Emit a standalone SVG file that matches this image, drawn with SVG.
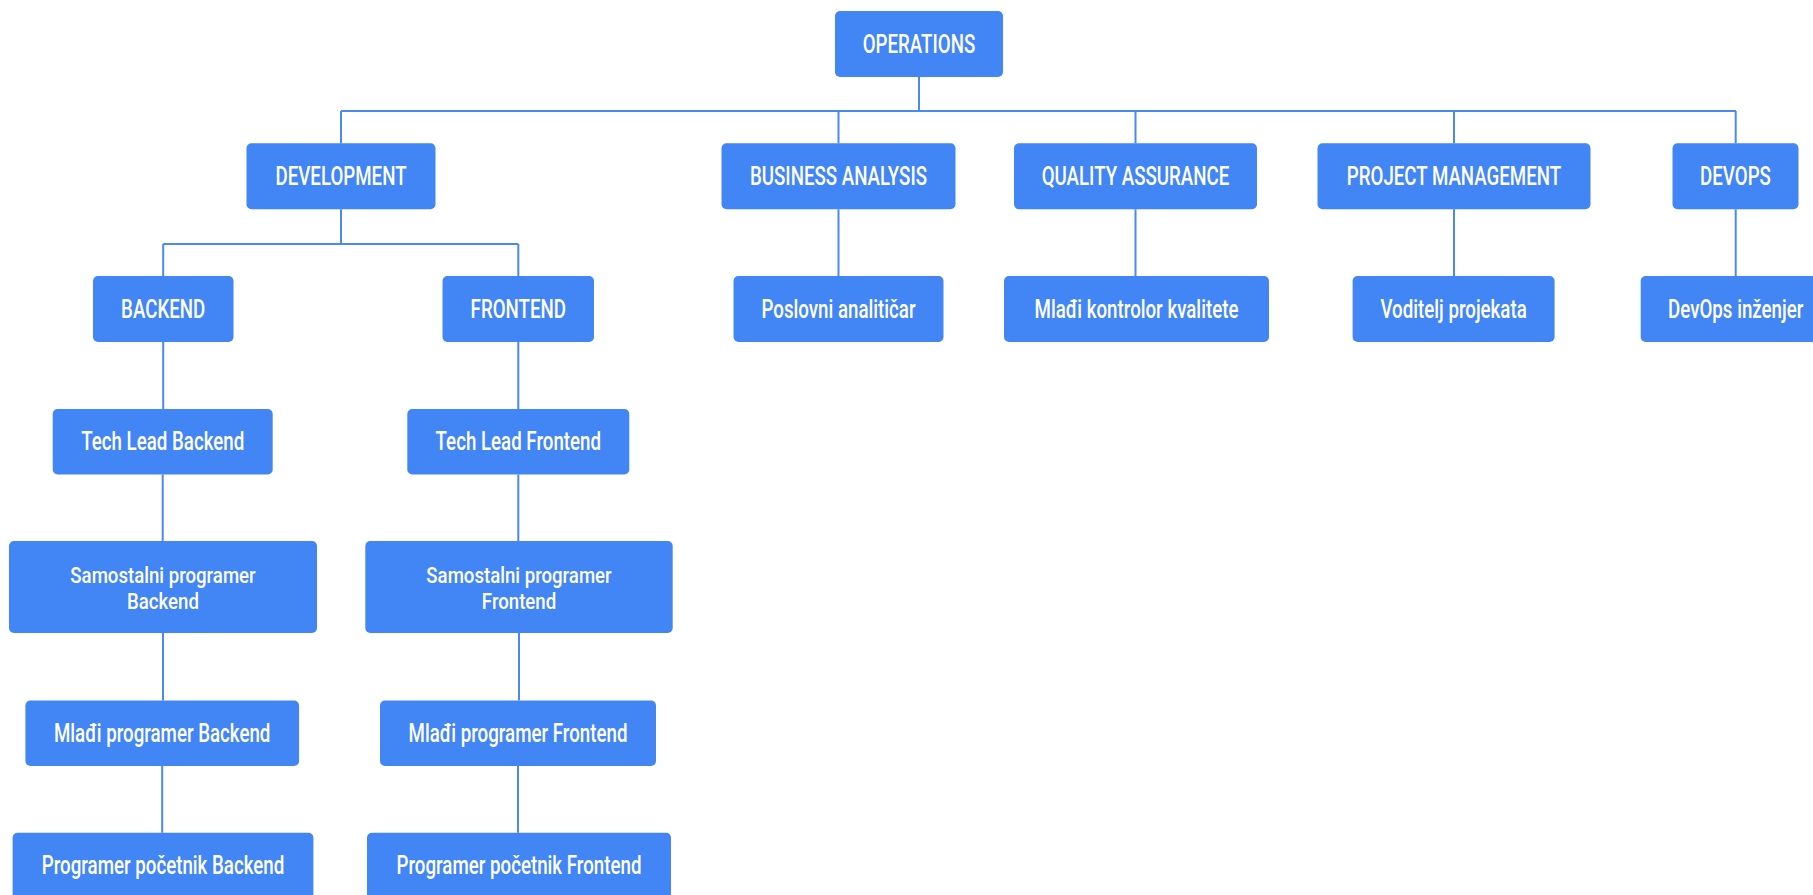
<svg xmlns="http://www.w3.org/2000/svg" width="1813" height="895" viewBox="0 0 1813 895">
  <style>
    .box { fill: #4285F4; }
    .lbl { fill: #FFFFFF; font-family: Roboto, "Liberation Sans", sans-serif; font-weight: 500; font-size: 26px; text-anchor: middle; }
    .lbl2 { font-size: 23px; }
    .wire { fill: none; stroke: #4A88F2; stroke-width: 2; }
  </style>
  <rect width="1813" height="895" fill="#FFFFFF"/>

  <!-- tree connectors -->
  <g id="connectors" class="wire">
    <path d="M919 77 V111 M341 111 H1736 M341 111 V143.3 M838.5 111 V143.3 M1135.5 111 V143.3 M1454 111 V143.3 M1735.7 111 V143.3"/>
    <path d="M341 209.3 V244 M163.2 244 H518.3 M163.2 244 V276 M518.3 244 V276"/>
    <path d="M838.5 209.3 V276 M1135.5 209.3 V276 M1454 209.3 V276 M1735.7 209.3 V276"/>
    <path d="M163.2 342 V409 M162.7 474.5 V541 M163 633 V700.5 M162.2 766 V832.7"/>
    <path d="M518.3 342 V409 M518.3 474.5 V541 M519 633 V700.5 M518 766 V832.7"/>
  </g>

  <g id="operations">
    <rect class="box" x="835" y="11" width="168" height="66" rx="5"/>
    <text class="lbl" transform="translate(919 52.5) scale(0.72 1)">OPERATIONS</text>
  </g>

  <g id="development">
    <rect class="box" x="246.5" y="143.3" width="189" height="66" rx="5"/>
    <text class="lbl" transform="translate(341 184.8) scale(0.72 1)">DEVELOPMENT</text>
  </g>
  <g id="business-analysis">
    <rect class="box" x="721.5" y="143.3" width="234" height="66" rx="5"/>
    <text class="lbl" transform="translate(838.5 184.8) scale(0.72 1)">BUSINESS ANALYSIS</text>
  </g>
  <g id="quality-assurance">
    <rect class="box" x="1014" y="143.3" width="243" height="66" rx="5"/>
    <text class="lbl" transform="translate(1135.5 184.8) scale(0.72 1)">QUALITY ASSURANCE</text>
  </g>
  <g id="project-management">
    <rect class="box" x="1317.5" y="143.3" width="273" height="66" rx="5"/>
    <text class="lbl" transform="translate(1454 184.8) scale(0.72 1)">PROJECT MANAGEMENT</text>
  </g>
  <g id="devops">
    <rect class="box" x="1672.5" y="143.3" width="126" height="66" rx="5"/>
    <text class="lbl" transform="translate(1735.5 184.8) scale(0.72 1)">DEVOPS</text>
  </g>

  <g id="backend">
    <rect class="box" x="93" y="276" width="140.5" height="66" rx="5"/>
    <text class="lbl" transform="translate(163.2 317.5) scale(0.72 1)">BACKEND</text>
  </g>
  <g id="frontend">
    <rect class="box" x="442.5" y="276" width="151.5" height="66" rx="5"/>
    <text class="lbl" transform="translate(518.3 317.5) scale(0.72 1)">FRONTEND</text>
  </g>
  <g id="poslovni-analiticar">
    <rect class="box" x="733.5" y="276" width="210" height="66" rx="5"/>
    <text class="lbl" transform="translate(838.5 317.5) scale(0.72 1)">Poslovni analitičar</text>
  </g>
  <g id="mladi-kontrolor-kvalitete">
    <rect class="box" x="1004" y="276" width="265" height="66" rx="5"/>
    <text class="lbl" transform="translate(1136.5 317.5) scale(0.72 1)">Mlađi kontrolor kvalitete</text>
  </g>
  <g id="voditelj-projekata">
    <rect class="box" x="1352.6" y="276" width="202" height="66" rx="5"/>
    <text class="lbl" transform="translate(1453.6 317.5) scale(0.72 1)">Voditelj projekata</text>
  </g>
  <g id="devops-inzenjer">
    <rect class="box" x="1640.7" y="276" width="190" height="66" rx="5"/>
    <text class="lbl" transform="translate(1735.7 317.5) scale(0.72 1)">DevOps inženjer</text>
  </g>

  <g id="tech-lead-backend">
    <rect class="box" x="52.7" y="409" width="220" height="65.5" rx="5"/>
    <text class="lbl" transform="translate(162.7 450.2) scale(0.72 1)">Tech Lead Backend</text>
  </g>
  <g id="tech-lead-frontend">
    <rect class="box" x="407.3" y="409" width="222" height="65.5" rx="5"/>
    <text class="lbl" transform="translate(518.3 450.2) scale(0.72 1)">Tech Lead Frontend</text>
  </g>

  <g id="samostalni-programer-backend">
    <rect class="box" x="9" y="541" width="308" height="92" rx="5"/>
    <text class="lbl lbl2" transform="translate(163 582.5) scale(0.81 1)"><tspan x="0" y="0">Samostalni programer</tspan><tspan x="0" y="27">Backend</tspan></text>
  </g>
  <g id="samostalni-programer-frontend">
    <rect class="box" x="365.3" y="541" width="307.4" height="92" rx="5"/>
    <text class="lbl lbl2" transform="translate(519 582.5) scale(0.81 1)"><tspan x="0" y="0">Samostalni programer</tspan><tspan x="0" y="27">Frontend</tspan></text>
  </g>

  <g id="mladi-programer-backend">
    <rect class="box" x="25.4" y="700.5" width="273.7" height="65.5" rx="5"/>
    <text class="lbl" transform="translate(162.2 741.7) scale(0.72 1)">Mlađi programer Backend</text>
  </g>
  <g id="mladi-programer-frontend">
    <rect class="box" x="380" y="700.5" width="276" height="65.5" rx="5"/>
    <text class="lbl" transform="translate(518 741.7) scale(0.72 1)">Mlađi programer Frontend</text>
  </g>

  <g id="programer-pocetnik-backend">
    <rect class="box" x="12.6" y="832.7" width="300.8" height="66" rx="5"/>
    <text class="lbl" transform="translate(163 874.2) scale(0.72 1)">Programer početnik Backend</text>
  </g>
  <g id="programer-pocetnik-frontend">
    <rect class="box" x="367" y="832.7" width="304" height="66" rx="5"/>
    <text class="lbl" transform="translate(519 874.2) scale(0.72 1)">Programer početnik Frontend</text>
  </g>
</svg>
